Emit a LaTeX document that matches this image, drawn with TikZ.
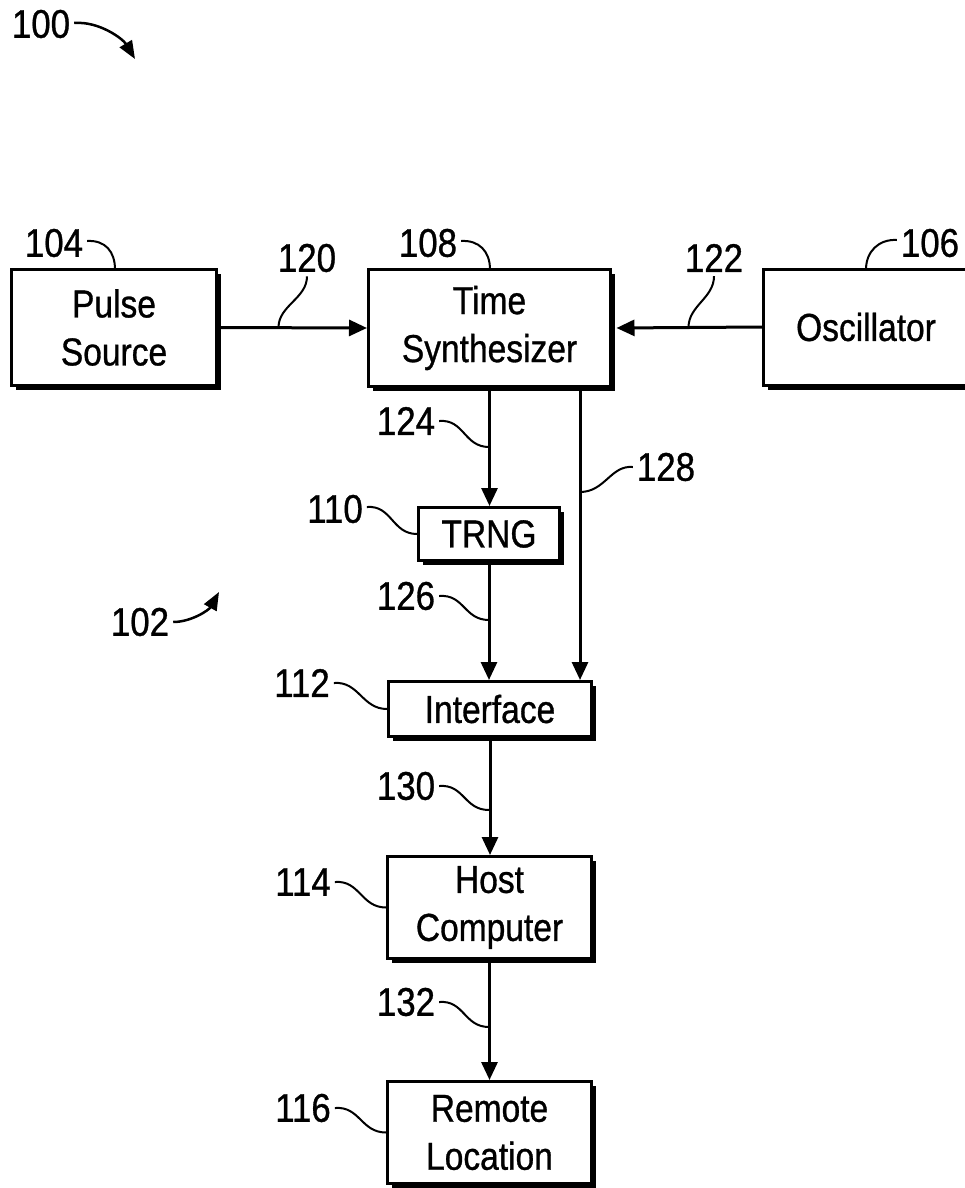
\documentclass[tikz,border=0pt]{standalone}
\usepackage{fontspec}
\setmainfont{Liberation Sans}[FakeStretch=0.86,FakeBold=0.8]
\newfontfamily\numfont{Liberation Sans}[FakeStretch=0.87,FakeBold=0.8]
\usetikzlibrary{arrows.meta,shadows}
\begin{document}
\begin{tikzpicture}[x=1pt,y=-1pt]
\tikzset{
 box/.style={draw, line width=3pt, fill=white, inner sep=0pt, align=center,
   font=\fontsize{39}{48}\selectfont,
   drop shadow={shadow xshift=4.5pt, shadow yshift=-4.5pt, fill=black, opacity=1}},
 num/.style={font=\numfont\fontsize{40}{42}\selectfont, inner sep=4pt},
 arr/.style={line width=3pt, -{Triangle[length=18pt,width=16pt]}},
 lead/.style={line width=2pt},
 ptr/.style={line width=2.5pt, -{Triangle[length=18pt,width=14pt]}}
}
\useasboundingbox (0,0) rectangle (964,1188);

% boxes
\node[box, minimum width=205pt, minimum height=116pt] (ps) at (114,327.5) {Pulse\\Source};
\node[box, minimum width=242pt, minimum height=117pt] (ts) at (489.5,328) {Time\\Synthesizer};
\node[box, minimum width=205pt, minimum height=116pt] (osc) at (866,327) {Oscillator};
\node[box, minimum width=141pt, minimum height=53pt] (trng) at (489,534) {TRNG};
\node[box, minimum width=203pt, minimum height=55pt] (intf) at (490,709) {Interface};
\node[box, minimum width=204pt, minimum height=102pt] (host) at (489.5,907.5) {Host\\Computer};
\node[box, minimum width=204pt, minimum height=102pt] (rem) at (489.5,1132.5) {Remote\\Location};

% reference numerals
\node[num] (l100) at (41,24) {100};
\node[num] (l104) at (54,243) {104};
\node[num] (l120) at (307,258) {120};
\node[num] (l108) at (428,243) {108};
\node[num] (l122) at (714,258) {122};
\node[num] (l106) at (930,243) {106};
\node[num] (l124) at (406,421) {124};
\node[num] (l128) at (666,467) {128};
\node[num] (l110) at (335,509) {110};
\node[num] (l126) at (406,596) {126};
\node[num] (l112) at (302,683) {112};
\node[num] (l130) at (406,786) {130};
\node[num] (l114) at (303,882) {114};
\node[num] (l132) at (406,1002) {132};
\node[num] (l116) at (303,1108) {116};
\node[num] (l102) at (140,622) {102};

% connectors
\draw[arr] (ps.east) -- (ts.west);
\draw[arr] (osc.west) -- ([xshift=4.5pt]ts.east);
\draw[arr] (ts.south) -- (ts.south |- trng.north);
\coordinate (x128) at (580,0);
\draw[arr] (ts.south -| x128) -- (intf.north -| x128);
\draw[arr] (trng.south) -- (trng.south |- intf.north);
\draw[arr] (intf.south) -- (intf.south |- host.north);
\draw[arr] (host.south) -- (host.south |- rem.north);

% leader end points
\coordinate (e104) at (115,269.5);
\coordinate (e108) at (490,269.5);
\coordinate (e106) at (866,269.5);
\coordinate (e120) at (278.5,327.5);
\coordinate (e122) at (688.5,327.5);
\coordinate (e124) at (489,447);
\coordinate (e128) at (580,492);
\coordinate (e126) at (489,620);
\coordinate (e130) at (489,810);
\coordinate (e132) at (489,1027);

% leaders
\draw[lead] ([yshift=2pt]l104.east) .. controls +(18,-1) and +(0,-18) .. (e104);
\draw[lead] ([yshift=2pt]l108.east) .. controls +(18,-1) and +(0,-18) .. (e108);
\draw[lead] ([yshift=3pt]l106.west) .. controls +(-18,-1) and +(0,-18) .. (e106);
\draw[lead] (e120) .. controls +(0,-22) and +(0,22) .. (l120.south);
\draw[lead] (e122) .. controls +(0,-22) and +(0,22) .. (l122.south);
\draw[lead] (l124.east) .. controls +(25,-2) and +(-25,0) .. (e124);
\draw[lead] (l128.west) .. controls +(-22,-2) and +(25,0) .. (e128);
\draw[lead] ([yshift=2pt]l110.east) .. controls +(25,-2) and +(-25,0) .. (trng.west);
\draw[lead] (l126.east) .. controls +(25,-2) and +(-25,0) .. (e126);
\draw[lead] (l112.east) .. controls +(25,-2) and +(-25,0) .. (intf.west);
\draw[lead] (l130.east) .. controls +(25,-2) and +(-25,0) .. (e130);
\draw[lead] (l114.east) .. controls +(25,-2) and +(-25,0) .. (host.west);
\draw[lead] (l132.east) .. controls +(25,-2) and +(-25,0) .. (e132);
\draw[lead] (l116.east) .. controls +(25,-2) and +(-25,0) .. (rem.west);

% pointers
\coordinate (t100) at (135,59);
\coordinate (t102) at (219,592);
\draw[ptr] ([yshift=1pt]l100.east) .. controls +(25,-2) and +(-12,-20) .. (t100);
\draw[ptr] (l102.east) .. controls +(18,0) and +(-10,18) .. (t102);
\end{tikzpicture}
\end{document}
